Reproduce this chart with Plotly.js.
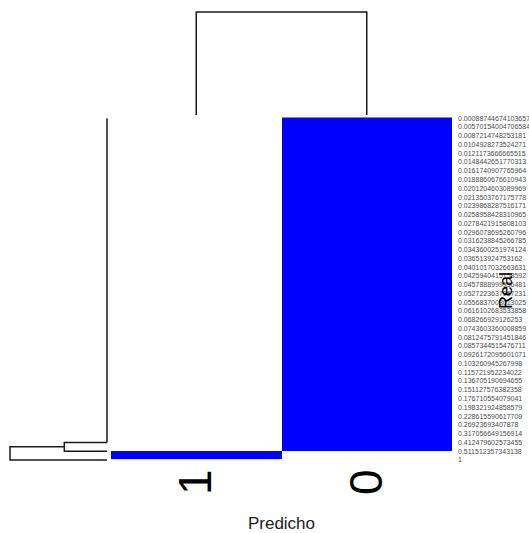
<!DOCTYPE html>
<html><head><meta charset="utf-8">
<script src="https://cdn.plot.ly/plotly-3.0.1.min.js"></script>
<style>html,body{margin:0;padding:0;background:#fff;}#chart{width:529px;height:533px;}</style>
</head><body><div id="chart"></div>
<script>
// ---- data ----
const colLabels = ['1', '0'];
const rowLabels = [
  '0.00088744674103657','0.00570154004706584','0.0087214748253181','0.0104928273524271',
  '0.0121173666665515','0.0148442651770313','0.0161740907765964','0.0188860676610943',
  '0.0201204603089969','0.0213503767175778','0.0239868287516171','0.0258958428310965',
  '0.0278421915808103','0.0296078695260796','0.0316238845266785','0.0343600251974124',
  '0.036513924753162','0.0401017032663631','0.0425940415158592','0.0457888999956481',
  '0.0527223637957231','0.0556837003013025','0.0616102683533858','0.068266929126253',
  '0.0743603360008859','0.0812475791451846','0.0857344515476711','0.0926172095601071',
  '0.103260945267998','0.115721952234022','0.136705190694655','0.151127576382358',
  '0.176710554079041','0.198321924858579','0.228615590617709','0.26923693407878',
  '0.317056649156914','0.412479602573455','0.511512357343138','1'
];
// cell values per column (Predicho = "1", Predicho = "0")
const zPred1 = [0,0,0,0,0,0,0,0,0,0,0,0,0,0,0,0,0,0,0,0,0,0,0,0,0,0,0,0,0,0,0,0,0,0,0,0,0,0,0,1];
const zPred0 = [1,1,1,1,1,1,1,1,1,1,1,1,1,1,1,1,1,1,1,1,1,1,1,1,1,1,1,1,1,1,1,1,1,1,1,1,1,1,1,0];
// row dendrogram: cluster each leaf joins at height 0, then the merges
const rowLeafCluster = ['A','A','A','A','A','A','A','A','A','A','A','A','A','A','A','A','A','A','A','A',
                        'A','A','A','A','A','A','A','A','A','A','A','A','A','A','A','A','A','A','B','C'];
const rowMergeLeft   = ['A', 'AB'];
const rowMergeRight  = ['B', 'C'];
const rowMergeName   = ['AB', 'ABC'];
const rowMergeHeight = [0.44, 1];
// column dendrogram
const colMergeHeight = [1];

// ---- build ----
const W = 529, H = 533;
const fx = px => px / W, fy = px => 1 - px / H;

const z = rowLabels.map((_, i) => [zPred1[i], zPred0[i]]);

// row dendrogram segments
const nodes = {};
const rx = [], ry = [];
const clusters = [...new Set(rowLeafCluster)];
clusters.forEach(c => {
  const leaves = [];
  rowLeafCluster.forEach((k, i) => { if (k === c) leaves.push(i + 1); });
  if (leaves.length > 1) {
    rx.push(0, 0, null); ry.push(leaves[0], leaves[leaves.length - 1], null);
  }
  nodes[c] = { pos: leaves[leaves.length - 1], h: 0 };
});
rowMergeName.forEach((name, j) => {
  const L = nodes[rowMergeLeft[j]], R = nodes[rowMergeRight[j]], h = rowMergeHeight[j];
  rx.push(L.h, h, h, R.h, null);
  ry.push(L.pos, L.pos, R.pos, R.pos, null);
  nodes[name] = { pos: (L.pos + R.pos) / 2, h: h };
});

// column dendrogram segments
const cx = [colLabels[0], colLabels[0], colLabels[1], colLabels[1]];
const cy = [0, colMergeHeight[0], colMergeHeight[0], 0];

const lineStyle = { color: '#1a1a1a', width: 1.5 };
const font = 'Liberation Sans, Arial, sans-serif';

const traces = [
  { type: 'heatmap', x: colLabels, y: rowLabels, z: z, xaxis: 'x', yaxis: 'y',
    colorscale: [[0, '#FFFFFF'], [1, '#0000FF']], zmin: 0, zmax: 1, showscale: false, hoverinfo: 'x+y+z' },
  { type: 'scatter', mode: 'lines', x: cx, y: cy, xaxis: 'x', yaxis: 'y2', line: lineStyle, hoverinfo: 'skip' },
  { type: 'scatter', mode: 'lines', x: rx, y: ry, xaxis: 'x3', yaxis: 'y3', line: lineStyle, hoverinfo: 'skip' }
];

const rootH = Math.max(...rowMergeHeight);
const top3 = 118.2, bot3 = 459.9, step3 = (bot3 - top3) / 39;
const layout = {
  width: W, height: H, margin: { l: 0, r: 0, t: 0, b: 0 },
  paper_bgcolor: '#fff', plot_bgcolor: 'rgba(0,0,0,0)', showlegend: false,
  font: { family: font },
  xaxis: { domain: [fx(111), fx(452)], anchor: 'y', type: 'category', categoryorder: 'array',
    categoryarray: colLabels, range: [-0.5, 1.5], showgrid: false, zeroline: false, showline: false,
    ticks: '', tickangle: -90, tickfont: { size: 46, color: '#000', family: font }, automargin: false,
    title: { text: 'Predicho', font: { size: 17, color: '#222', family: font }, standoff: 23 } },
  yaxis: { domain: [fy(459.3), fy(117.3)], anchor: 'x', type: 'category', categoryorder: 'array',
    categoryarray: rowLabels, range: [rowLabels.length - 0.5, -0.5], showgrid: false, zeroline: false,
    showticklabels: false, ticks: '' },
  yaxis2: { domain: [fy(115), fy(115 - 1.02 * 103)], anchor: 'x', range: [0, colMergeHeight[0] * 1.02],
    visible: false },
  xaxis3: { domain: [fx(10 - 0.02 * 97), fx(107 + 0.02 * 97)], anchor: 'y3',
    range: [rootH * 1.02, -rootH * 0.02], visible: false },
  yaxis3: { domain: [fy(bot3 + 0.3 * step3), fy(top3 - 0.3 * step3)], anchor: 'free', position: fx(457),
    side: 'right', range: [rowLabels.length + 0.3, 0.7], showgrid: false, zeroline: false, showline: false,
    ticks: '', tickmode: 'array', tickvals: rowLabels.map((_, i) => i + 1), ticktext: rowLabels,
    tickfont: { size: 7, color: '#4d4d4d', family: font }, automargin: false },
  annotations: [
    { text: 'Real', xref: 'paper', yref: 'paper', x: fx(518), y: fy(291), textangle: -90,
      showarrow: false, font: { size: 18, color: '#000', family: font } }
  ]
};

Plotly.newPlot('chart', traces, layout, { displayModeBar: false, staticPlot: true });
</script></body></html>
